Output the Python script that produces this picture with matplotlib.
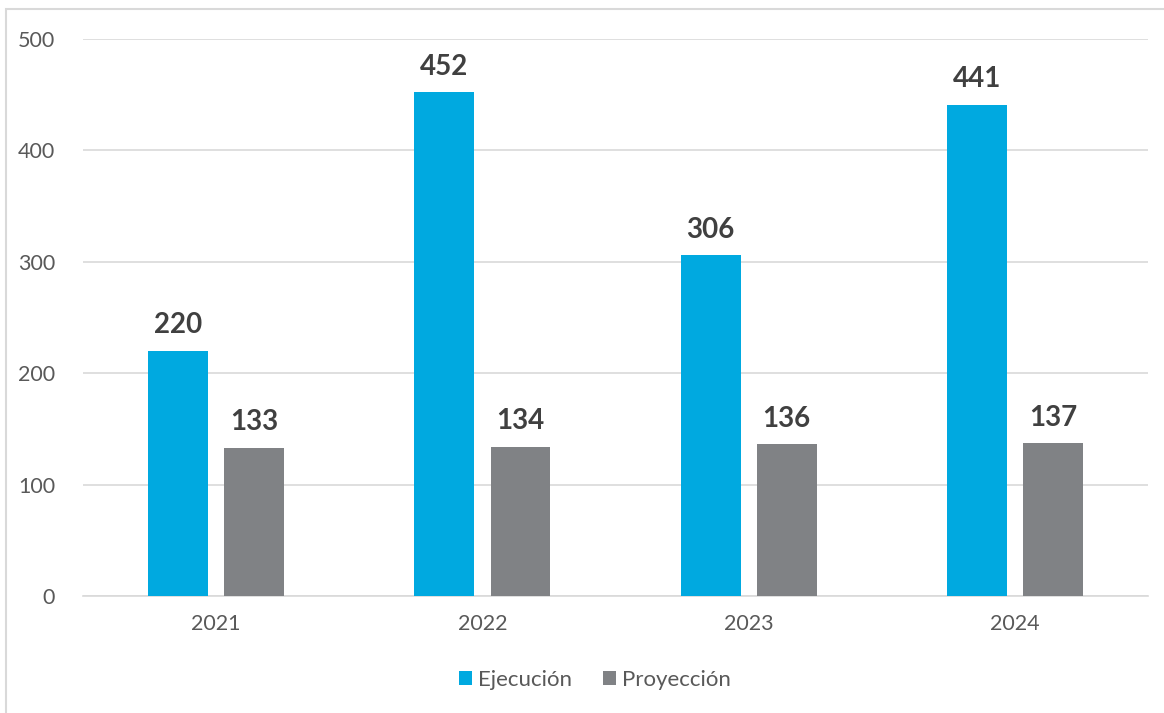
import numpy as np
import matplotlib.pyplot as plt
from matplotlib.patches import Rectangle

plt.rcParams['font.family'] = ['Lato', 'DejaVu Sans']

years = ['2021', '2022', '2023', '2024']
ejecucion = [220, 452, 306, 441]
proyeccion = [133, 134, 136, 137]

c_blue = '#00A9E0'
c_gray = '#808285'
c_grid = '#D9D9D9'
c_text = '#595959'

fig = plt.figure(figsize=(11.64, 7.13), dpi=100)
ax = fig.add_axes([0.0713, 0.1641, 0.9150, 0.7812])

# marco exterior
fig.patches.append(Rectangle((6/1164, -0.1), 1.2, 1 - 9/713 + 0.1,
                             transform=fig.transFigure, fill=False,
                             edgecolor=c_grid, linewidth=1.5))

x = np.arange(len(years))
w = 0.225
off = 0.143
b1 = ax.bar(x - off, ejecucion, w, color=c_blue, label='Ejecución', zorder=3)
b2 = ax.bar(x + off, proyeccion, w, color=c_gray, label='Proyección', zorder=3)

for bars in (b1, b2):
    for r in bars:
        ax.annotate(f'{int(r.get_height())}', (r.get_x() + r.get_width()/2, r.get_height()),
                    xytext=(0, 9), textcoords='offset points', ha='center', va='bottom',
                    fontsize=20, fontweight='bold', color='#404040')

ax.set_xlim(-0.5, 3.5)
ax.set_ylim(0, 500)
ax.set_yticks(range(0, 501, 100))
ax.set_xticks(x)
ax.set_xticklabels(years)
ax.yaxis.grid(True, color=c_grid, linewidth=1.2, zorder=0)
ax.set_axisbelow(True)
for s in ('top', 'right', 'left'):
    ax.spines[s].set_visible(False)
ax.spines['bottom'].set_color(c_grid)
ax.spines['bottom'].set_linewidth(1.2)
ax.tick_params(axis='both', length=0, labelsize=15.5, colors=c_text)
ax.tick_params(axis='x', pad=13)
ax.tick_params(axis='y', pad=20)

leg = fig.legend(loc='center', bbox_to_anchor=(595/1164, 1 - 680/713), ncol=2,
                 frameon=False, fontsize=16, handlelength=0.6, handleheight=0.6,
                 handletextpad=0.25, columnspacing=1.4)
for t in leg.get_texts():
    t.set_color(c_text)

fig.savefig('out.png', dpi=100)
